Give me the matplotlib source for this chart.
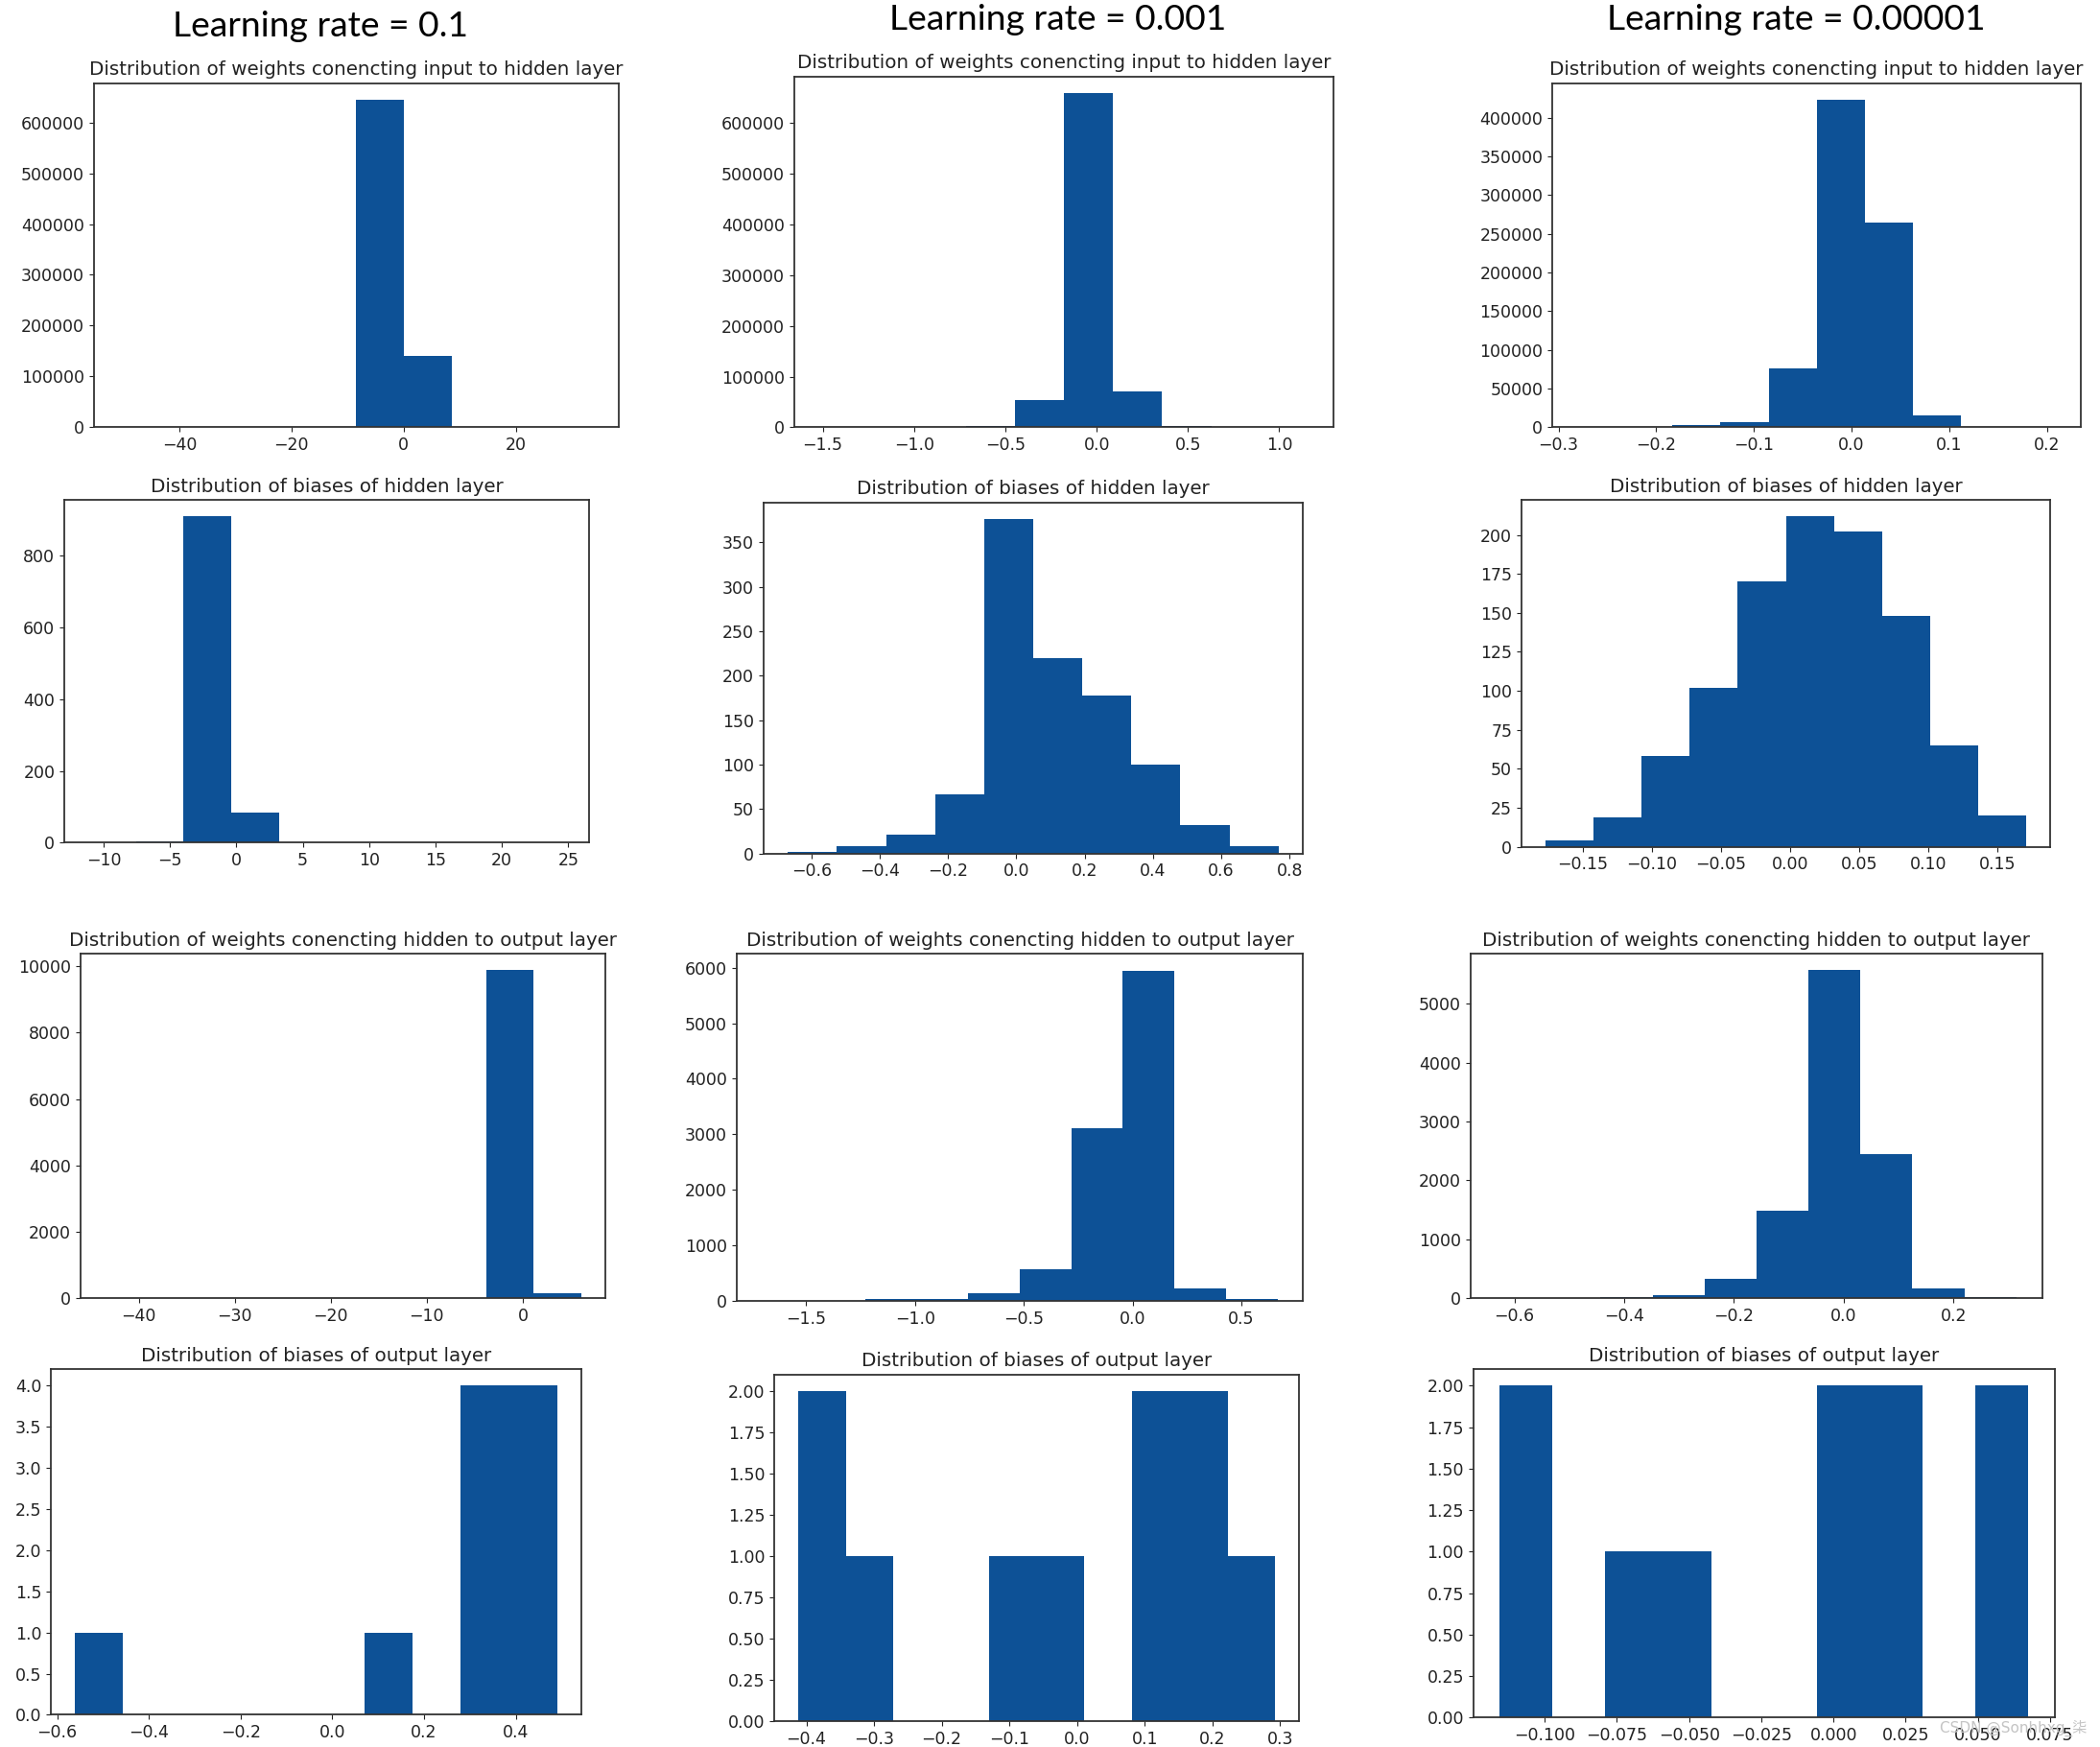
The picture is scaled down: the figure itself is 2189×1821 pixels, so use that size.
import numpy as np
import matplotlib.pyplot as plt

BAR_COLOR = '#0d5196'
TEXT_COLOR = '#222222'

col_headers = ["Learning rate = 0.1", "Learning rate = 0.001", "Learning rate = 0.00001"]
row_titles = ["Distribution of weights conencting input to hidden layer",
              "Distribution of biases of hidden layer",
              "Distribution of weights conencting hidden to output layer",
              "Distribution of biases of output layer"]

# each histogram: (min, max) of the data and the counts of its 10 equal bins
# learning rate = 0.1
w_ih_range_1 = (-51.0, 34.1)
w_ih_counts_1 = [1, 0, 0, 0, 2, 645000, 141000, 3, 0, 1]
b_h_range_1 = (-11.17, 24.78)
b_h_counts_1 = [1, 5, 910, 84, 0, 0, 0, 0, 0, 1]
w_ho_range_1 = (-43.6, 6.12)
w_ho_counts_1 = [1, 0, 0, 0, 0, 0, 1, 3, 9880, 140]
b_o_range_1 = (-0.561, 0.490)
b_o_counts_1 = [1, 0, 0, 0, 0, 0, 1, 0, 4, 4]

# learning rate = 0.001
w_ih_range_2 = (-1.522, 1.165)
w_ih_counts_2 = [1, 2, 40, 3600, 54500, 658000, 70500, 3600, 40, 1]
b_h_range_2 = (-0.669, 0.768)
b_h_counts_2 = [2, 8, 21, 66, 376, 220, 178, 100, 32, 8]
w_ho_range_2 = (-1.701, 0.665)
w_ho_counts_2 = [1, 0, 40, 40, 145, 578, 3105, 5950, 231, 35]
b_o_range_2 = (-0.4124, 0.2929)
b_o_counts_2 = [2, 1, 0, 0, 1, 1, 0, 2, 2, 1]

# learning rate = 0.00001
w_ih_range_3 = (-0.2818, 0.2105)
w_ih_counts_3 = [1, 50, 2900, 7000, 76300, 423500, 264700, 15300, 10, 1]
b_h_range_3 = (-0.1771, 0.1712)
b_h_counts_3 = [4, 19, 58, 102, 170, 212, 202, 148, 65, 20]
w_ho_range_3 = (-0.6326, 0.3149)
w_ho_counts_3 = [1, 0, 27, 54, 326, 1478, 5565, 2451, 163, 27]
b_o_range_3 = (-0.1156, 0.0674)
b_o_counts_3 = [2, 0, 1, 1, 0, 0, 2, 2, 0, 2]

ranges = [[w_ih_range_1, w_ih_range_2, w_ih_range_3],
          [b_h_range_1, b_h_range_2, b_h_range_3],
          [w_ho_range_1, w_ho_range_2, w_ho_range_3],
          [b_o_range_1, b_o_range_2, b_o_range_3]]
counts = [[w_ih_counts_1, w_ih_counts_2, w_ih_counts_3],
          [b_h_counts_1, b_h_counts_2, b_h_counts_3],
          [w_ho_counts_1, w_ho_counts_2, w_ho_counts_3],
          [b_o_counts_1, b_o_counts_2, b_o_counts_3]]

# axes boxes (left, top, right, bottom) on a 1568 x 1304 grid
W, H = 1568, 1304
boxes = [[(70, 62, 462, 319), (593, 57, 996, 319), (1159, 62, 1554, 319)],
         [(48, 373, 440, 629), (570, 375, 973, 637), (1136, 373, 1531, 632)],
         [(60, 712, 452, 969), (550, 712, 973, 971), (1098, 712, 1525, 969)],
         [(38, 1022, 434, 1280), (578, 1026, 970, 1285), (1100, 1022, 1534, 1282)]]
header_pos = [(239, 20), (790, 15), (1341, 15)]

fig = plt.figure(figsize=(21.89, 18.21), dpi=100)

for r in range(4):
    for c in range(3):
        x0, y0, x1, y1 = boxes[r][c]
        ax = fig.add_axes([x0 / W, 1 - y1 / H, (x1 - x0) / W, (y1 - y0) / H])
        lo, hi = ranges[r][c]
        edges = np.linspace(lo, hi, 11)
        ax.hist(edges[:-1], bins=edges, weights=counts[r][c], color=BAR_COLOR)
        ax.set_title(row_titles[r], fontsize=14.3, color=TEXT_COLOR)
        ax.tick_params(labelsize=12.5, colors=TEXT_COLOR)
        for s in ax.spines.values():
            s.set_linewidth(1.3)
            s.set_color('#333333')

for c in range(3):
    x, y = header_pos[c]
    fig.text(x / W, 1 - y / H, col_headers[c], fontsize=26.8, family=['Lato', 'DejaVu Sans'],
             ha='center', va='center', color='black')

# watermark
fig.text(0.994, 0.006, 'CSDN @Sonhhxg_柒', fontsize=11, color='#c4c4c4', ha='right', va='bottom',
         family=['DejaVu Sans', 'Noto Sans CJK SC'])

fig.savefig('out.png', dpi=100)
